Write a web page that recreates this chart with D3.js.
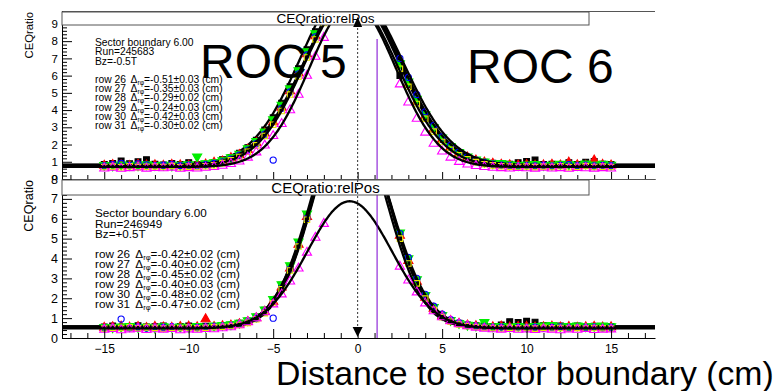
<!DOCTYPE html>
<html><head><meta charset="utf-8">
<script src="https://cdn.jsdelivr.net/npm/d3@7"></script>
<style>
body{margin:0;background:#fff}
svg{display:block}
text{font-family:"Liberation Sans",Arial,Helvetica,sans-serif;fill:#000}
</style>
</head><body>
<svg id="c" width="778" height="391"></svg>
<script>
// ---------------- DATA ----------------
const rowNames = ["row 26","row 27","row 28","row 29","row 30","row 31"];
// x positions of the measured points (cm); no points in the gap at the boundary
const xPoints = [-15,-14.5,-14,-13.5,-13,-12.5,-12,-11.5,-11,-10.5,
  -10,-9.5,-9,-8.5,-8,-7.5,-7,-6.5,-6,-5.5,
  -5,-4.5,-4,-3.5,-3,-2.5,-2,
  2.5,3,3.5,4,4.5,
  5,5.5,6,6.5,7,7.5,8,8.5,9,9.5,
  10,10.5,11,11.5,12,12.5,13,13.5,14,14.5,
  15];

// Upper panel (Run 245683, Bz=-0.5T)
const top26 = [0.85,0.90,1.05,0.88,1.00,1.12,0.86,0.82,0.90,0.84, 0.95,0.83,0.86,0.95,1.12,1.25,1.50,1.82,2.25,2.85, 3.55,4.40,5.35,6.40,7.50,8.55,9.50, 6.0,5.5,4.5,3.6,2.9, 2.3,1.85,1.5,1.25,1.08,0.98,0.92,0.88,0.86,0.95, 1.02,1.10,0.84,0.86,0.83,0.95,0.85,0.98,1.02,0.86, 0.84];
const top27 = [0.78,0.82,0.80,0.76,0.84,0.79,0.81,0.77,0.83,0.80, 0.78,0.82,0.85,0.95,1.02,1.22,1.40,1.70,2.10,2.65, 3.30,4.15,5.10,6.15,7.25,8.30,9.25, 6.6,5.5,4.5,3.65,2.9, 2.3,1.85,1.5,1.26,1.08,0.97,0.9,0.84,0.81,0.79, 0.82,0.78,0.8,0.84,0.79,0.96,0.81,0.78,1.08,0.83, 0.79];
const top28 = [0.80,0.78,0.83,0.81,0.79,0.85,0.80,0.82,0.78,0.81, 0.84,1.3,0.90,0.96,1.08,1.25,1.45,1.78,2.2,2.75, 3.45,4.3,5.25,6.3,7.4,8.45,9.4, 6.7,5.65,4.65,3.75,3.0, 2.4,1.9,1.55,1.3,1.12,1.0,0.9,0.92,0.84,0.8, 0.83,0.86,0.8,0.82,0.88,0.84,0.81,0.89,0.83,0.87, 0.82];
const top29 = [0.76,0.84,0.90,0.79,0.88,0.82,0.77,0.80,0.85,0.78, 0.81,0.76,0.83,0.90,1.0,1.15,1.38,1.68,2.05,2.6, 1.1,4.1,5.05,6.1,7.2,8.25,9.2, 7.0,5.9,4.9,3.9,3.1, 2.45,1.95,1.58,1.3,1.1,0.96,0.86,0.8,0.77,0.74, 0.78,0.76,0.8,0.75,0.79,0.84,0.77,0.8,0.76,0.79, 0.77];
const top30 = [0.70,0.72,0.68,0.74,0.69,0.71,0.73,0.70,0.75,0.68, 0.72,0.70,0.74,0.80,0.92,1.08,1.28,1.58,1.95,2.5, 3.15,3.95,4.9,5.95,7.05,8.1,9.05, 6.4,5.35,4.35,3.5,2.75, 2.15,1.7,1.38,1.15,0.98,0.86,0.79,0.74,0.72,0.7, 0.73,0.69,0.72,0.7,0.74,0.68,0.71,0.75,0.7,0.72, 0.7];
const top31 = [0.62,0.66,0.60,0.64,0.68,0.61,0.65,0.63,0.67,0.60, 0.64,0.62,0.66,0.70,0.78,0.88,1.02,1.25,1.55,1.95, 2.5,3.2,4.0,4.9,6.0,7.1,8.2, 5.5,4.45,3.5,2.7,2.05, 1.6,1.25,1.0,0.85,0.76,0.7,0.66,0.64,0.62,0.65, 0.63,0.61,0.66,0.62,0.64,0.6,0.65,0.63,0.61,0.64, 0.62];

// Lower panel (Run 246949, Bz=+0.5T)
const bot26 = [0.56,0.60,0.54,0.58,0.62,0.55,0.57,0.60,0.53,0.58, 0.61,0.56,0.59,0.57,0.62,0.66,0.74,0.86,1.05,1.40, 1.92,2.65,3.6,4.8,6.2,7.7,9.1, 5.2,3.95,2.9,2.1,1.5, 1.12,0.88,0.74,0.66,0.62,0.6,0.58,0.66,0.82,0.78, 0.84,0.8,0.62,0.58,0.6,0.57,0.61,0.56,0.59,0.57, 0.58];
const bot27 = [0.52,0.55,0.58,0.53,0.56,0.51,0.57,0.54,0.52,0.56, 0.58,0.55,0.95,0.56,0.60,0.63,0.70,0.81,1.0,1.33, 1.83,2.55,3.5,4.7,6.1,7.6,9.0, 5.15,3.88,2.84,2.04,1.48, 1.1,0.86,0.72,0.64,0.6,0.57,0.55,0.58,0.54,0.56, 0.57,0.53,0.55,0.58,0.54,0.56,0.52,0.55,0.57,0.54, 0.55];
const bot28 = [0.55,0.53,0.57,0.59,0.54,0.56,0.52,0.58,0.55,0.57, 0.54,0.6,0.56,0.62,0.65,0.68,0.76,0.88,1.08,1.42, 1.95,2.7,3.65,4.85,6.25,7.75,9.2, 5.3,4.0,2.95,2.15,1.55, 1.15,0.9,0.75,0.66,0.62,0.8,0.58,0.6,0.57,0.6, 0.56,0.59,0.62,0.64,0.58,0.6,0.62,0.58,0.6,0.62, 0.58];
const bot29 = [0.50,0.54,0.95,0.52,0.56,0.5,0.55,0.53,0.57,0.51, 0.55,0.52,0.56,0.58,0.6,0.62,0.7,0.8,0.98,1.3, 1.0,2.5,3.45,4.65,6.0,7.5,8.95, 5.25,4.05,3.0,2.2,1.6, 1.2,0.92,0.76,0.65,0.6,0.56,0.53,0.55,0.5,0.54, 0.52,0.55,0.5,0.53,0.56,0.51,0.54,0.52,0.55,0.5, 0.53];
const bot30 = [0.48,0.52,0.5,0.54,0.49,0.53,0.51,0.47,0.52,0.5, 0.53,0.49,0.52,0.55,0.57,0.6,0.66,0.76,0.94,1.25, 1.75,2.45,3.4,4.6,5.95,7.45,8.9, 5.0,3.75,2.75,1.98,1.42, 1.05,0.82,0.68,0.6,0.55,0.52,0.5,0.48,0.51,0.49, 0.5,0.47,0.52,0.49,0.5,0.48,0.51,0.47,0.5,0.49, 0.48];
const bot31 = [0.42,0.46,0.4,0.44,0.47,0.41,0.45,0.43,0.46,0.4, 0.44,0.42,0.46,0.45,0.5,0.55,0.65,0.8,1.0,1.3, 1.7,2.2,2.85,3.5,4.3,5.05,5.75, 3.6,2.9,2.3,1.75,1.35, 1.05,0.85,0.7,0.6,0.53,0.48,0.45,0.43,0.46,0.42, 0.44,0.41,0.45,0.43,0.4,0.44,0.42,0.46,0.41,0.43, 0.44];

// Gaussian + constant fit parameters per row
const topFitMean  = [-0.51,-0.35,-0.29,-0.24,-0.42,-0.30];
const topFitAmp   = [10.3, 9.9, 10.1, 10.0, 9.7, 9.5];
const topFitSigma = [2.85, 2.78, 2.80, 2.90, 2.75, 2.55];
const topFitConst = [0.84, 0.80, 0.82, 0.79, 0.74, 0.70];
const botFitMean  = [-0.42,-0.40,-0.45,-0.40,-0.48,-0.47];
const botFitAmp   = [10.9, 10.8, 11.0, 10.6, 10.7, 6.4];
const botFitSigma = [2.20, 2.18, 2.22, 2.28, 2.16, 2.50];
const botFitConst = [0.58, 0.56, 0.58, 0.54, 0.52, 0.48];

const topDelta = ["=-0.51±0.03 (cm)","=-0.35±0.03 (cm)","=-0.29±0.02 (cm)","=-0.24±0.03 (cm)","=-0.42±0.03 (cm)","=-0.30±0.02 (cm)"];
const botDelta = ["=-0.42±0.02 (cm)","=-0.40±0.02 (cm)","=-0.45±0.02 (cm)","=-0.40±0.03 (cm)","=-0.48±0.02 (cm)","=-0.47±0.02 (cm)"];
const topInfo = ["Sector boundary 6.00","Run=245683","Bz=-0.5T"];
const botInfo = ["Sector boundary 6.00","Run=246949","Bz=+0.5T"];
const topYTicks = [0,1,2,3,4,5,6,7,8,9];
const botYTicks = [0,1,2,3,4,5,6,7,8];
const xTicks = [-15,-10,-5,0,5,10,15];
const boundaryX = 0;      // dotted arrow position
const padEdgeX = 1.15;    // purple vertical line

// ---------------- STYLE ----------------
const markerStyles = [
  {sym:d3.symbolSquare,   size:34, fill:"#000000", stroke:"#000000", rot:0},
  {sym:d3.symbolTriangle, size:36, fill:"#ff0000", stroke:"#ff0000", rot:0},
  {sym:d3.symbolTriangle, size:36, fill:"#00ee00", stroke:"#00ee00", rot:180},
  {sym:d3.symbolCircle,   size:30, fill:"none",    stroke:"#0000ff", rot:0},
  {sym:d3.symbolSquare,   size:30, fill:"none",    stroke:"#e8e800", rot:0},
  {sym:d3.symbolTriangle, size:36, fill:"none",    stroke:"#ff00ff", rot:0}
];

const svg = d3.select("#c");
svg.append("rect").attr("width",778).attr("height",391).attr("fill","#fff");
const defs = svg.append("defs");
const X0 = 62, X1 = 655;
const x = d3.scaleLinear().domain([-17.5,17.6]).range([X0,X1]);
const fitGrid = d3.range(-17.5, 17.61, 0.05);

function drawPanel(p){
  const g = svg.append("g");
  if (p.bgY !== undefined) g.append("rect").attr("x",0).attr("y",p.bgY).attr("width",778).attr("height",391-p.bgY).attr("fill","#fff");
  const y = d3.scaleLinear().domain([0,p.yMax]).range([p.yBot,p.yTop]);
  defs.append("clipPath").attr("id","clip"+p.id).append("rect")
    .attr("x",X0).attr("y",p.yTop).attr("width",X1-X0).attr("height",p.yBot-p.yTop);
  const plot = g.append("g").attr("clip-path",`url(#clip${p.id})`);

  p.series.forEach((vals,i)=>{
    const st = markerStyles[i];
    const sym = d3.symbol().type(st.sym).size(st.size);
    plot.append("g").selectAll("path").data(vals.map((v,j)=>[xPoints[j],v])).join("path")
      .attr("d",sym)
      .attr("transform",d=>`translate(${x(d[0])},${y(d[1])}) rotate(${st.rot})`)
      .attr("fill",st.fill).attr("stroke",st.stroke).attr("stroke-width",1.1);
    const line = d3.line().x(t=>x(t))
      .y(t=>y(p.fitC[i] + p.fitA[i]*Math.exp(-((t-p.fitM[i])**2)/(2*p.fitS[i]**2))));
    plot.append("path").attr("d",line(fitGrid)).attr("fill","none")
      .attr("stroke","#000").attr("stroke-width",2.3);
  });

  // purple pad boundary line
  g.append("line").attr("x1",x(padEdgeX)).attr("x2",x(padEdgeX))
    .attr("y1",p.purpleTop).attr("y2",p.yBot).attr("stroke","#7a00d0").attr("stroke-width",1);

  // frame top line
  g.append("line").attr("x1",X0).attr("x2",X1).attr("y1",p.yTop+0.5).attr("y2",p.yTop+0.5)
    .attr("stroke","#555").attr("stroke-width",1);

  // y axis
  const yMinor = d3.range(0, p.yMax+0.001, 0.2).filter(v=>Math.abs(v-Math.round(v))>0.01);
  const ya = g.append("g").attr("transform",`translate(${X0},0)`)
    .call(d3.axisLeft(y).tickValues(p.yTicks).tickSizeInner(-10).tickSizeOuter(0).tickPadding(4).tickFormat(d3.format("d")));
  ya.selectAll("text").attr("font-size",p.tickFont).attr("font-family","Liberation Sans, Arial, sans-serif");
  ya.select(".domain").attr("stroke","#000");
  g.append("g").attr("transform",`translate(${X0},0)`)
    .call(d3.axisLeft(y).tickValues(yMinor).tickSize(-5).tickFormat(""))
    .select(".domain").remove();

  // x axis
  const xa = g.append("g").attr("transform",`translate(0,${p.yBot})`)
    .call(d3.axisBottom(x).tickValues(xTicks).tickSizeInner(-p.xMajor).tickSizeOuter(0).tickPadding(6.5)
      .tickFormat(p.xLabels ? d3.format("d") : ""));
  xa.selectAll("text").attr("font-size",12).attr("font-family","Liberation Sans, Arial, sans-serif");
  g.append("g").attr("transform",`translate(0,${p.yBot})`)
    .call(d3.axisBottom(x).tickValues(d3.range(-17,18,1).filter(v=>v%5!==0)).tickSize(-p.xMinor).tickFormat(""))
    .select(".domain").remove();
  g.selectAll(".tick line").attr("stroke","#000");

  // y title
  g.append("text").attr("transform",`translate(33,${p.yTop+1}) rotate(-90)`)
    .attr("text-anchor","end").attr("font-size",p.yTitleFont).text("CEQratio");

  // title box
  g.append("rect").attr("x",X0).attr("y",p.boxY).attr("width",589-X0).attr("height",p.boxH)
    .attr("fill","#fff").attr("stroke","#555").attr("stroke-width",1);
  g.append("text").attr("x",(X0+589)/2).attr("y",p.boxY+p.boxH-2.5).attr("text-anchor","middle")
    .attr("font-size",p.boxFont).text("CEQratio:relPos");

  // annotation
  p.info.forEach((s,k)=>{
    g.append("text").attr("x",95).attr("y",p.infoY[k]).attr("font-size",p.annFont).attr("fill","#111").text(s);
  });
  rowNames.forEach((r,k)=>{
    const t = g.append("text").attr("x",95).attr("y",p.rowY0 + k*p.rowDy).attr("font-size",p.annFont).attr("fill","#111");
    t.append("tspan").text(r);
    t.append("tspan").attr("dx",p.annFont*0.45).text("Δ");
    t.append("tspan").attr("font-size",p.annFont*0.65).attr("dy",2).text("rφ");
    t.append("tspan").attr("dy",-2).text(p.deltas[k]);
  });
  return y;
}

drawPanel({id:"t", yTop:11, yBot:179, yMax:9.75, yTicks:topYTicks, tickFont:11.5,
  series:[top26,top27,top28,top29,top30,top31], fitM:topFitMean, fitA:topFitAmp, fitS:topFitSigma, fitC:topFitConst,
  xMajor:7, xMinor:4, xLabels:false, yTitleFont:11.3, purpleTop:39,
  boxY:12, boxH:13, boxFont:13.6, info:topInfo, infoY:[45.5,55,64.5], rowY0:83, rowDy:9.2,
  annFont:10.3, deltas:topDelta});

drawPanel({id:"b", bgY:180, yTop:179, yBot:338, yMax:8.0, yTicks:botYTicks, tickFont:12.5,
  series:[bot26,bot27,bot28,bot29,bot30,bot31], fitM:botFitMean, fitA:botFitAmp, fitS:botFitSigma, fitC:botFitConst,
  xMajor:9, xMinor:5, xLabels:true, yTitleFont:12.6, purpleTop:195,
  boxY:180, boxH:15, boxFont:15, info:botInfo, infoY:[216.5,227.5,238], rowY0:258.3, rowDy:9.95,
  annFont:11.7, deltas:botDelta});

// dotted boundary line with arrows
const bx = x(boundaryX);
svg.append("line").attr("x1",bx).attr("x2",bx).attr("y1",24).attr("y2",330)
  .attr("stroke","#333").attr("stroke-width",1).attr("stroke-dasharray","2,2");
svg.append("path").attr("d",`M${bx},17 L${bx-4.5},27 L${bx+4.5},27 Z`).attr("fill","#000");
svg.append("path").attr("d",`M${bx},337 L${bx-5},327 L${bx+5},327 Z`).attr("fill","#000");

// ROC labels
svg.append("text").attr("x",200).attr("y",78).attr("font-size",48).text("ROC 5");
svg.append("text").attr("x",467).attr("y",83).attr("font-size",48).text("ROC 6");

// x title
const xt = svg.append("text").attr("x",276).attr("y",385).attr("font-family","Lato, 'Open Sans', sans-serif")
  .attr("font-size",31).text("Distance to sector boundary (cm)");
const w = xt.node().getComputedTextLength();
xt.attr("font-size", 31*498/w);
</script>
</body></html>
